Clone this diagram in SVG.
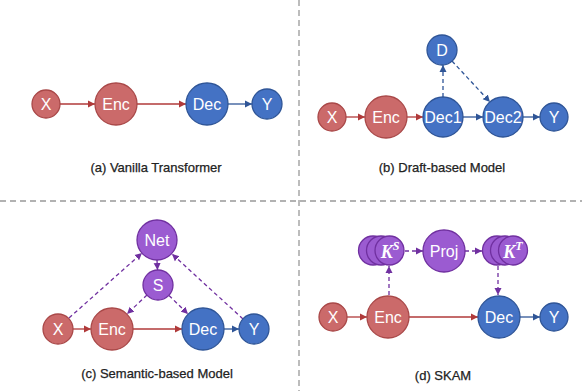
<svg xmlns="http://www.w3.org/2000/svg" width="582" height="391" viewBox="0 0 582 391">
<defs>
<style>
.red{fill:#CB6A6A;stroke:#A94848;stroke-width:1.3}
.blue{fill:#4472C4;stroke:#2F5597;stroke-width:1.3}
.pur{fill:#9B5BD1;stroke:#7030A0;stroke-width:1.3}
.lbl{font-family:"Liberation Sans",Arial,sans-serif;font-size:16px;fill:#fff;text-anchor:middle;dominant-baseline:central}
.cap{font-family:"Liberation Sans",Arial,sans-serif;font-size:13px;fill:#222;stroke:#222;stroke-width:0.25;text-anchor:middle}
.k{font-family:"Liberation Serif","Times New Roman",serif;font-weight:bold;font-style:italic;font-size:18px;fill:#fff;text-anchor:middle;dominant-baseline:central}
.ar{stroke:#B03A3A;stroke-width:1.3;fill:none;marker-end:url(#mr)}
.ab{stroke:#2F5597;stroke-width:1.3;fill:none;marker-end:url(#mb)}
.abd{stroke:#2F5597;stroke-width:1.3;fill:none;stroke-dasharray:4 3;marker-end:url(#mb)}
.ap{stroke:#7030A0;stroke-width:1.3;fill:none;marker-end:url(#mp)}
.apd{stroke:#7030A0;stroke-width:1.3;fill:none;stroke-dasharray:4 3;marker-end:url(#mp)}
.div{stroke:#999;stroke-width:1.3;stroke-dasharray:6 4;fill:none}
</style>
<marker id="mr" markerUnits="userSpaceOnUse" markerWidth="8" markerHeight="8" refX="7" refY="4" orient="auto"><path d="M0,0.5 L7,4 L0,7.5 Z" fill="#B03A3A"/></marker>
<marker id="mb" markerUnits="userSpaceOnUse" markerWidth="8" markerHeight="8" refX="7" refY="4" orient="auto"><path d="M0,0.5 L7,4 L0,7.5 Z" fill="#2F5597"/></marker>
<marker id="mp" markerUnits="userSpaceOnUse" markerWidth="8" markerHeight="8" refX="7" refY="4" orient="auto"><path d="M0,0.5 L7,4 L0,7.5 Z" fill="#7030A0"/></marker>
</defs>
<rect width="582" height="391" fill="#fff"/>
<g id="dividers">
<line class="div" x1="299" y1="0" x2="299" y2="391"/>
<line class="div" x1="0" y1="201" x2="582" y2="201"/>
</g>
<g id="connectors">
<line class="ar" x1="60" y1="104" x2="95" y2="104"/>
<line class="ar" x1="137" y1="104" x2="186" y2="104"/>
<line class="ab" x1="228" y1="104" x2="252" y2="104"/>
<line class="ar" x1="346" y1="117" x2="365" y2="117"/>
<line class="ar" x1="407" y1="117" x2="423" y2="117"/>
<line class="ab" x1="463" y1="117" x2="483" y2="117"/>
<line class="ab" x1="523" y1="117" x2="540" y2="117"/>
<line class="abd" x1="443" y1="97" x2="443" y2="65"/>
<line class="abd" x1="452" y1="61" x2="490" y2="102"/>
<line class="ar" x1="73" y1="329" x2="91" y2="329"/>
<line class="ar" x1="133" y1="329" x2="182" y2="329"/>
<line class="ab" x1="224" y1="329" x2="239" y2="329"/>
<line class="ap" x1="157" y1="260" x2="157.5" y2="270"/>
<line class="apd" x1="147" y1="295" x2="127" y2="314"/>
<line class="apd" x1="169" y1="295.5" x2="188" y2="314"/>
<line class="apd" x1="69" y1="318" x2="142" y2="253"/>
<line class="apd" x1="243" y1="319" x2="172" y2="254"/>
<line class="ar" x1="347" y1="317" x2="367" y2="317"/>
<line class="ar" x1="409" y1="317" x2="478" y2="317"/>
<line class="ab" x1="520" y1="317" x2="540" y2="317"/>
<line class="apd" x1="389" y1="295" x2="389" y2="266"/>
<line class="apd" x1="405" y1="251" x2="423" y2="251"/>
<line class="apd" x1="465" y1="251" x2="482" y2="251"/>
<line class="apd" x1="498" y1="266" x2="498" y2="295"/>
</g>
<g id="a-X"><circle class="red" cx="46" cy="104" r="14"/><text class="lbl" x="46" y="104">X</text></g>
<g id="a-Enc"><circle class="red" cx="116" cy="104" r="21"/><text class="lbl" x="116" y="104">Enc</text></g>
<g id="a-Dec"><circle class="blue" cx="207" cy="104" r="21"/><text class="lbl" x="207" y="104">Dec</text></g>
<g id="a-Y"><circle class="blue" cx="267" cy="104" r="15"/><text class="lbl" x="267" y="104">Y</text></g>
<g id="a-cap"><text class="cap" x="156" y="172">(a) Vanilla Transformer</text></g>
<g id="b-X"><circle class="red" cx="332" cy="117" r="14"/><text class="lbl" x="332" y="117">X</text></g>
<g id="b-Enc"><circle class="red" cx="386" cy="117" r="21"/><text class="lbl" x="386" y="117">Enc</text></g>
<g id="b-Dec1"><circle class="blue" cx="443" cy="117" r="20"/><text class="lbl" x="443" y="117">Dec1</text></g>
<g id="b-Dec2"><circle class="blue" cx="503" cy="117" r="20"/><text class="lbl" x="503" y="117">Dec2</text></g>
<g id="b-Y"><circle class="blue" cx="554" cy="117" r="14"/><text class="lbl" x="554" y="117">Y</text></g>
<g id="b-D"><circle class="blue" cx="442" cy="50" r="15"/><text class="lbl" x="442" y="50">D</text></g>
<g id="b-cap"><text class="cap" x="442" y="172">(b) Draft-based Model</text></g>
<g id="c-Net"><circle class="pur" cx="157" cy="240" r="20"/><text class="lbl" x="157" y="240">Net</text></g>
<g id="c-S"><circle class="pur" cx="158" cy="285" r="15"/><text class="lbl" x="158" y="285">S</text></g>
<g id="c-X"><circle class="red" cx="58" cy="329" r="15"/><text class="lbl" x="58" y="329">X</text></g>
<g id="c-Enc"><circle class="red" cx="112" cy="329" r="21"/><text class="lbl" x="112" y="329">Enc</text></g>
<g id="c-Dec"><circle class="blue" cx="203" cy="329" r="21"/><text class="lbl" x="203" y="329">Dec</text></g>
<g id="c-Y"><circle class="blue" cx="254" cy="329" r="15"/><text class="lbl" x="254" y="329">Y</text></g>
<g id="c-cap"><text class="cap" x="157" y="378">(c) Semantic-based Model</text></g>
<g id="d-X"><circle class="red" cx="333" cy="317" r="14"/><text class="lbl" x="333" y="317">X</text></g>
<g id="d-Enc"><circle class="red" cx="388" cy="317" r="21"/><text class="lbl" x="388" y="317">Enc</text></g>
<g id="d-Dec"><circle class="blue" cx="499" cy="317" r="21"/><text class="lbl" x="499" y="317">Dec</text></g>
<g id="d-Y"><circle class="blue" cx="554" cy="317" r="14"/><text class="lbl" x="554" y="317">Y</text></g>
<g id="d-Proj"><circle class="pur" cx="444" cy="251" r="21"/><text class="lbl" x="444" y="251">Proj</text></g>
<g id="d-KS">
<circle class="pur" cx="373" cy="250.5" r="14.5"/>
<circle class="pur" cx="381" cy="250.5" r="14.5"/>
<circle class="pur" cx="389.5" cy="250.5" r="14.5"/>
<text class="k" x="390" y="252">K<tspan font-size="12" dy="-6">S</tspan></text>
</g>
<g id="d-KT">
<circle class="pur" cx="497" cy="250.5" r="14.5"/>
<circle class="pur" cx="505" cy="250.5" r="14.5"/>
<circle class="pur" cx="513" cy="250.5" r="14.5"/>
<text class="k" x="513" y="252">K<tspan font-size="12" dy="-6">T</tspan></text>
</g>
<g id="d-cap"><text class="cap" x="443" y="380">(d) SKAM</text></g>
</svg>
